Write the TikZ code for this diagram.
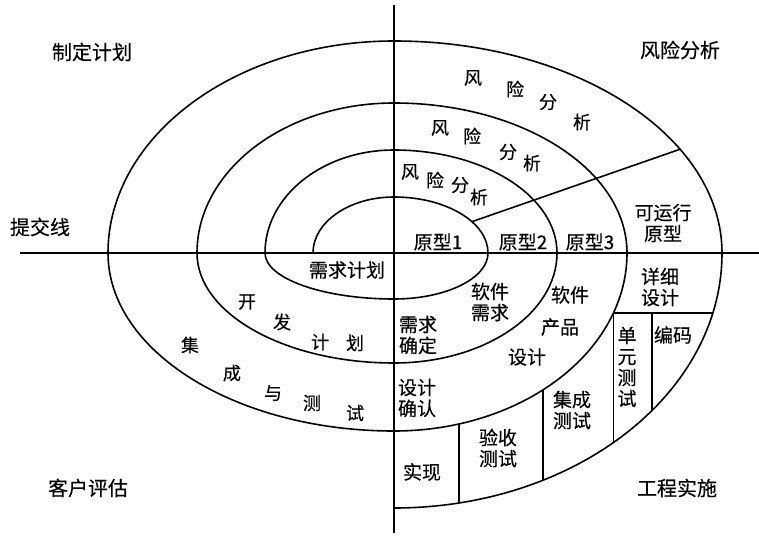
\documentclass[tikz,border=0pt]{standalone}
\usepackage{fontspec}
\newfontfamily\cjk[FakeBold=0.3]{Noto Sans CJK SC}
\usetikzlibrary{calc}
\tikzset{
  wall/.style={line width=1.6pt},
  lab/.style={font=\cjk\fontsize{19}{21}\selectfont, align=center, inner sep=0pt},
  ch/.style={font=\cjk\fontsize{18}{20}\selectfont, inner sep=0pt},
  corner/.style={font=\cjk\fontsize{20}{22}\selectfont, inner sep=0pt},
}

\begin{document}
\begin{tikzpicture}[x=1pt, y=-1pt, line join=round]
		\useasboundingbox (0,0) rectangle (759,537);
		\coordinate(o) at (394,253);
		\coordinate(w) at (20,253);
		\coordinate(e) at (759,253);
		\coordinate(n) at (394,5);
		\coordinate(s) at (394,533);
		\draw[wall](w) -- (e);
		\draw[wall](n) -- (s);
		% spiral
		\draw[wall] ($(o)+(-81,0)$)
			arc[start angle=180, end angle=270, x radius=81, y radius=56]
			arc[start angle=270, end angle=360, x radius=94, y radius=56]
			arc[start angle=0, end angle=90, x radius=94, y radius=46]
			arc[start angle=90, end angle=180, x radius=129, y radius=46]
			arc[start angle=180, end angle=270, x radius=129, y radius=103]
			arc[start angle=270, end angle=360, x radius=163, y radius=103]
			arc[start angle=0, end angle=90, x radius=163, y radius=110]
			arc[start angle=90, end angle=180, x radius=197, y radius=110]
			arc[start angle=180, end angle=270, x radius=197, y radius=150]
			arc[start angle=270, end angle=360, x radius=233, y radius=150]
			arc[start angle=0, end angle=90, x radius=233, y radius=178]
			arc[start angle=90, end angle=180, x radius=286, y radius=178]
			arc[start angle=180, end angle=270, x radius=286, y radius=212]
			arc[start angle=270, end angle=360, x radius=328, y radius=212]
			arc[start angle=0, end angle=90, x radius=328, y radius=255];
		% dividers
		\coordinate(d1) at ($(o)+(-34:94 and 56)$);
		\coordinate(d2) at ($(o)+(-29.3:328 and 212)$);
		\draw[wall](d1) -- (d2);
		\coordinate(h1) at ($(o)+(19.7:233 and 178)$);
		\coordinate(h2) at ($(o)+(13.6:328 and 255)$);
		\coordinate(h3) at ($(h1)!0.39!(h2)$);
		\coordinate(b1) at ($(o)+(48:328 and 255)$);
		\coordinate(b2) at ($(o)+(38.1:328 and 255)$);
		\coordinate(c1) at ($(o)+(50.25:233 and 178)$);
		\coordinate(b3) at ($(o)+(63:328 and 255)$);
		\coordinate(c2) at ($(o)+(73.8:233 and 178)$);
		\coordinate(b4) at ($(o)+(78.6:328 and 255)$);
		\draw[wall](h1) -- (h1 -| h2);
		\draw[wall](h1) -- (h1 |- b1);
		\draw[wall](h3) -- (h3 |- b2);
		\draw[wall](c1) -- (c1 |- b3);
		\draw[wall](c2) -- (c2 |- b4);
		% quadrants
		\node(plan)[corner] at (92,52) {制定计划};
		\node(risk)[corner] at (680,50) {风险分析};
		\node(submit)[corner] at (40,227) {提交线};
		\node(eval)[corner] at (88,488) {客户评估};
		\node(impl)[corner] at (677,488) {工程实施};
		% spaced words
		\foreach \t/\x/\y [count=\i] in {风/473/78, 险/515/89, 分/548/102, 析/582/122}
			\node(ra\i)[ch] at (\x,\y) {\t};
		\foreach \t/\x/\y [count=\i] in {风/440/128, 险/472/136, 分/508/152, 析/532/163}
			\node(rb\i)[ch] at (\x,\y) {\t};
		\foreach \t/\x/\y [count=\i] in {风/410/172, 险/435/180, 分/460/185, 析/479/197}
			\node(rc\i)[ch] at (\x,\y) {\t};
		\foreach \t/\x/\y [count=\i] in {开/247/302, 发/282/322, 计/320/342, 划/355/343}
			\node(dev\i)[ch] at (\x,\y) {\t};
		\foreach \t/\x/\y [count=\i] in {集/190/345, 成/232/373, 与/273/393, 测/312/403, 试/355/413}
			\node(int\i)[ch] at (\x,\y) {\t};
		% cells
		\node(reqplan)[lab] at (347,270) {需求计划};
		\node(proto1)[lab] at (438,242) {原型1};
		\node(proto2)[lab] at (523,242) {原型2};
		\node(proto3)[lab] at (590,242) {原型3};
		\node(run)[lab] at (663,223) {可运行\\原型};
		\node(detail)[lab] at (660,287) {详细\\设计};
		\node(swreq)[lab] at (490,302) {软件\\需求};
		\node(sw)[lab] at (570,295) {软件};
		\node(prod)[lab] at (560,327) {产品};
		\node(pdes)[lab] at (527,357) {设计};
		\node(reqok)[lab] at (418,335) {需求\\确定};
		\node(desok)[lab] at (417,398) {设计\\确认};
		\node(real)[lab] at (422,472) {实现};
		\node(accept)[lab] at (498,448) {验收\\测试};
		\node(integ)[lab] at (572,410) {集成\\测试};
		\node(unit)[lab] at (627,367) {单\\元\\测\\试};
		\node(code)[lab] at (673,335) {编码};
	\end{tikzpicture}
\end{document}
